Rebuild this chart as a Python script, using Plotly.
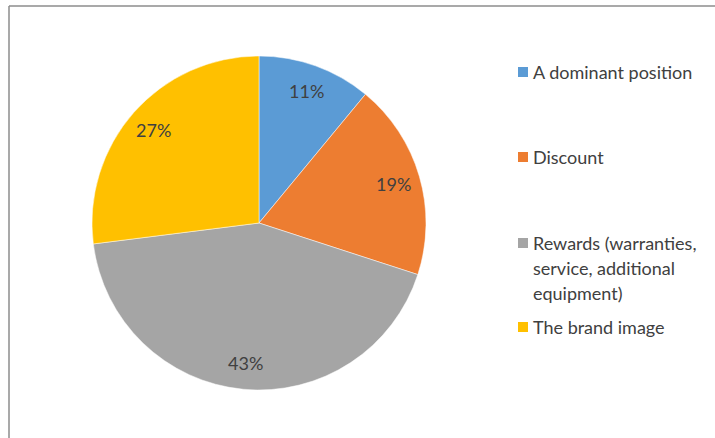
import math
import plotly.graph_objects as go

# Survey answers: what drives the choice of supplier
labels = [
    "A dominant position",
    "Discount",
    "Rewards (warranties,<br>service, additional<br>equipment)",
    "The brand image",
]
shares = [11, 19, 43, 27]
colors = ["#5B9BD5", "#ED7D31", "#A5A5A5", "#FFC000"]

W, H = 715, 438
FONT = "Lato, 'Open Sans', sans-serif"
TEXT_COLOR = "#404040"

# Pie placement in pixels (centre and radius)
CX, CY, R = 259, 223, 167


def px(x):
    return x / W


def py(y):
    return 1 - y / H


fig = go.Figure(
    go.Pie(
        labels=labels,
        values=shares,
        sort=False,
        direction="clockwise",
        rotation=0,
        marker=dict(colors=colors, line=dict(color="white", width=0.5)),
        textinfo="none",
        showlegend=False,
        hoverinfo="label+percent",
        domain=dict(x=[px(CX - R), px(CX + R)], y=[py(CY + R), py(CY - R)]),
    )
)

annotations = []

# Percentage labels, set at the angular middle of each slice (clockwise from 12 o'clock)
total = sum(shares)
cum = 0.0
for v in shares:
    mid = (cum + v / 2) / total * 2 * math.pi
    cum += v
    lx = CX + 0.84 * R * math.sin(mid)
    ly = CY - 0.84 * R * math.cos(mid)
    annotations.append(dict(
        text=f"{round(100 * v / total)}%", xref="paper", yref="paper",
        x=px(lx), y=py(ly), xanchor="center", yanchor="middle", showarrow=False,
        font=dict(family=FONT, size=18, color=TEXT_COLOR),
    ))

# Frame lines along the top and left edges
shapes = [
    dict(type="line", xref="paper", yref="paper", x0=px(9), x1=1, y0=py(6), y1=py(6),
         line=dict(color="#8c8c8c", width=1.5)),
    dict(type="line", xref="paper", yref="paper", x0=px(9), x1=px(9), y0=py(6), y1=0,
         line=dict(color="#8c8c8c", width=1.5)),
]

# Legend: colour swatch plus label for each category
legend_rows = [72, 157, 243, 327]
LINE_STEP = 25
for lab, col, yc in zip(labels, colors, legend_rows):
    shapes.append(dict(type="rect", xref="paper", yref="paper",
                       x0=px(518), x1=px(528), y0=py(yc + 5), y1=py(yc - 5),
                       fillcolor=col, line=dict(width=0)))
    for i, line in enumerate(lab.split("<br>")):
        annotations.append(dict(
            text=line, xref="paper", yref="paper", x=px(531), y=py(yc + i * LINE_STEP),
            xanchor="left", yanchor="middle", align="left", showarrow=False,
            font=dict(family=FONT, size=18, color=TEXT_COLOR),
        ))

fig.update_layout(
    width=W,
    height=H,
    margin=dict(l=0, r=0, t=0, b=0),
    paper_bgcolor="white",
    plot_bgcolor="white",
    shapes=shapes,
    annotations=annotations,
)

fig.write_html("out.html")
